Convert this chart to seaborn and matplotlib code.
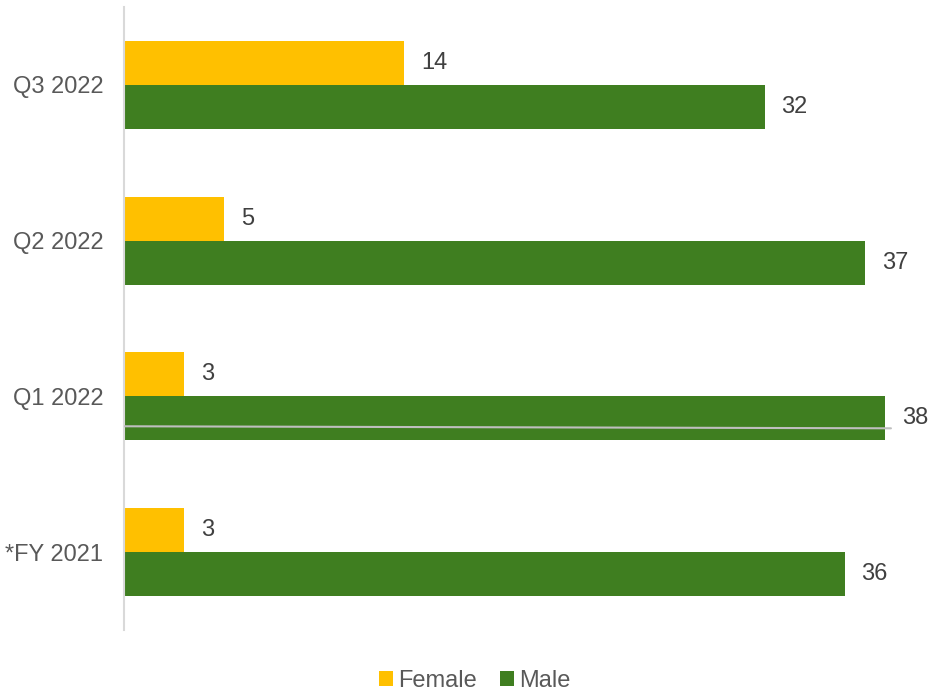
import matplotlib
matplotlib.use("Agg")
import matplotlib.pyplot as plt
import seaborn as sns
import pandas as pd

categories = ["Q3 2022", "Q2 2022", "Q1 2022", "*FY 2021"]
female = [14, 5, 3, 3]
male = [32, 37, 38, 36]
series_names = ["Female", "Male"]
colors = ["#FFC000", "#3F7E20"]

df = pd.DataFrame({
    "Period": categories * 2,
    "Value": female + male,
    "Gender": [series_names[0]] * len(categories) + [series_names[1]] * len(categories),
})

sns.set_theme(style="white")
plt.rcParams["font.family"] = ["Liberation Sans", "DejaVu Sans"]

fig = plt.figure(figsize=(9.31, 6.92), dpi=100)
ax = fig.add_axes([124 / 931, 62 / 692, 799 / 931, 623 / 692])

sns.barplot(data=df, y="Period", x="Value", hue="Gender", order=categories,
            hue_order=series_names, palette=colors, orient="h", width=0.564,
            saturation=1, ax=ax, legend=True, linewidth=0)

for cont in ax.containers:
    ax.bar_label(cont, padding=12, fontsize=17, color="#404040")

# stray thin grey line seen in reference across the Q1 male bar
ax.plot([0, 38.3], [2.192, 2.205], color="#BFBFBF", lw=1.5, zorder=5)

ax.set_xlim(0, 39.9)
ax.set_ylim(3.5, -0.5)
ax.set_xlabel("")
ax.set_ylabel("")
ax.set_xticks([])
ax.tick_params(axis="y", length=0, pad=15, labelsize=17, labelcolor="#595959")
for s in ["top", "right", "bottom"]:
    ax.spines[s].set_visible(False)
ax.spines["left"].set_color("#D9D9D9")
ax.spines["left"].set_linewidth(1.5)

handles, labels = ax.get_legend_handles_labels()
ax.get_legend().remove()
fig.legend(handles, labels, loc="center", bbox_to_anchor=(0.51, 0.016), ncol=2,
           frameon=False, fontsize=17, labelcolor="#595959", handlelength=0.6,
           handleheight=0.6, handletextpad=0.2, columnspacing=1.0)

fig.savefig("out.png", dpi=100)
